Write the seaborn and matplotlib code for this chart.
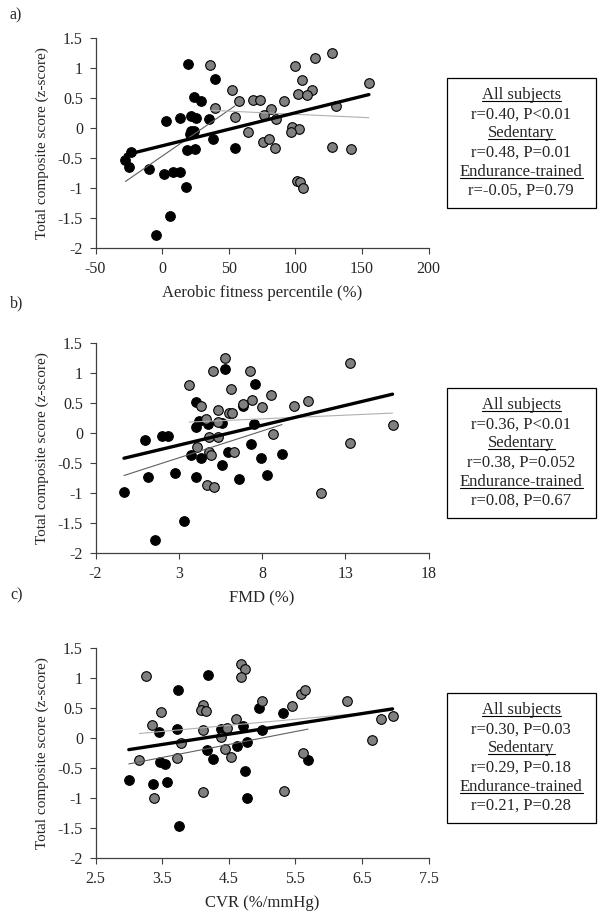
import numpy as np
import pandas as pd
import matplotlib
matplotlib.use('Agg')
import matplotlib.pyplot as plt
import seaborn as sns
from matplotlib.patches import Rectangle
from matplotlib.lines import Line2D

# Dados: sedentários (pretos) e treinados (cinzas)
afp_sed_x = [19.5, 39.5, 24.25, 29.5, 3.25, 13.25, 21.75, 25.75, 35.5, 21.75, 24.25, 20.75, 38.25,
             54.75, -23, -27.5, -25, 18.75, 24.75, -9.5, 1.25, 8.25, 13.25, 17.75, 6, -4.5]
afp_sed_y = [1.07, 0.82, 0.52, 0.45, 0.12, 0.17, 0.21, 0.17, 0.15, -0.04, -0.04, -0.10, -0.18,
             -0.32, -0.40, -0.53, -0.65, -0.36, -0.34, -0.68, -0.76, -0.72, -0.72, -0.97, -1.46, -1.78]
afp_end_x = [36.25, 99.5, 115, 127.75, 105, 52.5, 112.5, 101.75, 108.75, 155.25, 57.5, 68, 73.25,
             91.75, 39.5, 81.75, 76.75, 55, 85.75, 130.25, 97.5, 102.5, 96.75, 64.5, 75.5, 80.25,
             85, 127.5, 142, 101.25, 103.75, 105.75]
afp_end_y = [1.05, 1.04, 1.17, 1.26, 0.81, 0.64, 0.64, 0.57, 0.56, 0.75, 0.46, 0.48, 0.47,
             0.45, 0.34, 0.33, 0.23, 0.19, 0.15, 0.38, 0.03, -0.01, -0.06, -0.06, -0.23, -0.17,
             -0.32, -0.31, -0.34, -0.87, -0.90, -0.99]

fmd_sed_x = [-0.29, 0.97, 1.15, 1.59, 1.98, 2.34, 2.78, 3.30, 3.72, 4.06, 4.22, 4.06, 4.32, 4.06,
             4.73, 5.57, 5.57, 5.79, 5.93, 6.63, 6.88, 7.36, 7.50, 7.60, 7.96, 8.30, 9.20]
fmd_sed_y = [-0.98, -0.11, -0.73, -1.78, -0.05, -0.05, -0.66, -1.46, -0.37, 0.52, 0.21, 0.11,
             -0.41, -0.73, 0.15, 0.17, -0.53, 1.07, -0.32, -0.76, 0.45, -0.18, 0.16, 0.82, -0.41,
             -0.69, -0.35]
fmd_end_x = [5.79, 5.07, 7.26, 3.62, 6.15, 8.52, 4.31, 6.88, 7.38, 8.02, 9.91, 10.79, 13.30, 5.37,
             6.03, 6.19, 4.63, 5.37, 4.83, 5.33, 8.64, 4.08, 4.83, 4.95, 6.33, 13.28, 4.67, 5.13,
             11.53, 15.84]
fmd_end_y = [1.25, 1.04, 1.04, 0.81, 0.74, 0.63, 0.46, 0.48, 0.56, 0.44, 0.46, 0.54, 1.17, 0.38,
             0.33, 0.33, 0.23, 0.18, -0.06, -0.07, -0.02, -0.23, -0.32, -0.36, -0.32, -0.17, -0.87,
             -0.89, -0.99, 0.14]

cvr_sed_x = [3.0, 3.37, 3.46, 3.47, 3.55, 3.58, 3.74, 3.72, 3.76, 4.19, 4.17, 4.27, 4.38, 4.71,
             4.63, 4.78, 4.74, 4.78, 4.95, 5.0, 5.31, 5.69]
cvr_sed_y = [-0.69, -0.77, 0.10, -0.39, -0.42, -0.73, 0.81, 0.15, -1.46, 1.06, -0.19, -0.34, 0.15,
             0.20, -0.12, -0.06, -0.54, -0.99, 0.50, 0.14, 0.43, -0.36]
cvr_end_x = [3.26, 3.48, 3.35, 3.16, 3.38, 3.79, 3.73, 4.11, 4.09, 4.16, 4.12, 4.11, 4.38, 4.48,
             4.44, 4.53, 4.61, 4.68, 4.74, 4.68, 5.0, 5.45, 5.59, 5.64, 5.61, 5.33, 6.28, 6.65,
             6.79, 6.96]
cvr_end_y = [1.04, 0.44, 0.23, -0.36, -1.0, -0.07, -0.32, 0.56, 0.47, 0.45, 0.14, -0.89, 0.02,
             0.18, -0.18, -0.31, 0.32, 1.24, 1.16, 1.03, 0.63, 0.54, 0.74, 0.80, -0.24, -0.88,
             0.63, -0.02, 0.32, 0.37]

# Rótulos e estatísticas de cada painel
letras = ['a)', 'b)', 'c)']
rotulos_x = ['Aerobic fitness percentile (%)', 'FMD (%)', 'CVR (%/mmHg)']
ticks_x = [[-50, 0, 50, 100, 150, 200], [-2, 3, 8, 13, 18], [2.5, 3.5, 4.5, 5.5, 6.5, 7.5]]
rotulos_ticks_x = [['-50', '0', '50', '100', '150', '200'], ['-2', '3', '8', '13', '18'],
                   ['2.5', '3.5', '4.5', '5.5', '6.5', '7.5']]
ticks_y = [-2, -1.5, -1, -0.5, 0, 0.5, 1, 1.5]
rotulos_ticks_y = ['-2', '-1.5', '-1', '-0.5', '0', '0.5', '1', '1.5']
estatisticas = [
    ['r=0.40, P<0.01', 'r=0.48, P=0.01', 'r=-0.05, P=0.79'],
    ['r=0.36, P<0.01', 'r=0.38, P=0.052', 'r=0.08, P=0.67'],
    ['r=0.30, P=0.03', 'r=0.29, P=0.18', 'r=0.21, P=0.28'],
]
grupos = ['All subjects', 'Sedentary', 'Endurance-trained']

dados = [(afp_sed_x, afp_sed_y, afp_end_x, afp_end_y),
         (fmd_sed_x, fmd_sed_y, fmd_end_x, fmd_end_y),
         (cvr_sed_x, cvr_sed_y, cvr_end_x, cvr_end_y)]

sns.set_style('ticks')
plt.rcParams['font.family'] = ['Liberation Serif', 'DejaVu Serif']
plt.rcParams['font.size'] = 11

W, H = 605, 918
fig = plt.figure(figsize=(W / 100, H / 100), dpi=100)

topos_eixo = [38.3, 343.3, 648.3]
topos_caixa = [78.3, 388.3, 693.3]
topos_letra = [15, 303, 595]
linhas_base = [20.7, 40.0, 59.0, 78.4, 97.7, 116.7]

underlines = []
for i in range(3):
    sx, sy, ex, ey = dados[i]
    df = pd.concat([pd.DataFrame({'x': sx, 'y': sy, 'grupo': 'Sedentary'}),
                    pd.DataFrame({'x': ex, 'y': ey, 'grupo': 'Endurance-trained'})])
    top = topos_eixo[i]
    ax = fig.add_axes([95.5 / W, 1 - (top + 210) / H, 333 / W, 210 / H])
    sns.scatterplot(ax=ax, data=df[df.grupo == 'Sedentary'], x='x', y='y', color='black',
                    edgecolor='black', linewidth=0.8, s=48, zorder=2)
    sns.scatterplot(ax=ax, data=df[df.grupo == 'Endurance-trained'], x='x', y='y', color='#808080',
                    edgecolor='black', linewidth=0.8, s=48, zorder=2)
    sns.regplot(ax=ax, data=df, x='x', y='y', scatter=False, ci=None, truncate=True,
                line_kws={'color': 'black', 'lw': 2.4, 'zorder': 4})
    sns.regplot(ax=ax, data=df[df.grupo == 'Sedentary'], x='x', y='y', scatter=False, ci=None,
                truncate=True, line_kws={'color': '#606060', 'lw': 0.8, 'zorder': 3})
    sns.regplot(ax=ax, data=df[df.grupo == 'Endurance-trained'], x='x', y='y', scatter=False,
                ci=None, truncate=True, line_kws={'color': '#b0b0b0', 'lw': 0.8, 'zorder': 3})
    ax.set_xlim(ticks_x[i][0], ticks_x[i][-1])
    ax.set_ylim(-2, 1.5)
    ax.set_xticks(ticks_x[i])
    ax.set_xticklabels(rotulos_ticks_x[i])
    ax.set_yticks(ticks_y)
    ax.set_yticklabels(rotulos_ticks_y)
    ax.set_xlabel(rotulos_x[i], fontsize=12, labelpad=6)
    ax.set_ylabel('Total composite score (z-score)', fontsize=11, labelpad=6)
    ax.tick_params(direction='out', length=4, width=0.8, labelsize=11.5, pad=5, color='#404040')
    sns.despine(ax=ax)
    for lado in ['left', 'bottom']:
        ax.spines[lado].set_color('#404040')
        ax.spines[lado].set_linewidth(0.9)

    fig.text(10 / W, 1 - topos_letra[i] / H, letras[i], fontsize=11.5, va='center', ha='left')

    # Caixa com as correlações
    bt = topos_caixa[i]
    fig.patches.append(Rectangle((446.7 / W, 1 - (bt + 130) / H), 149.3 / W, 130 / H,
                                 transform=fig.transFigure, fill=False, edgecolor='black',
                                 linewidth=0.9))
    for j in range(6):
        if j % 2 == 0:
            texto = grupos[j // 2]
        else:
            texto = estatisticas[i][j // 2]
        t = fig.text(521.3 / W, 1 - (bt + linhas_base[j]) / H, texto, fontsize=12,
                     ha='center', va='baseline')
        if j % 2 == 0:
            underlines.append((t, bt + linhas_base[j] + 1.8))

# Sublinha os títulos dos grupos
fig.canvas.draw()
renderer = fig.canvas.get_renderer()
for t, ypx in underlines:
    bb = t.get_window_extent(renderer)
    yf = 1 - ypx / H
    fig.lines.append(Line2D([bb.x0 / W, bb.x1 / W], [yf, yf], transform=fig.transFigure,
                            color='black', linewidth=0.8))

fig.savefig('out.png', dpi=100)
